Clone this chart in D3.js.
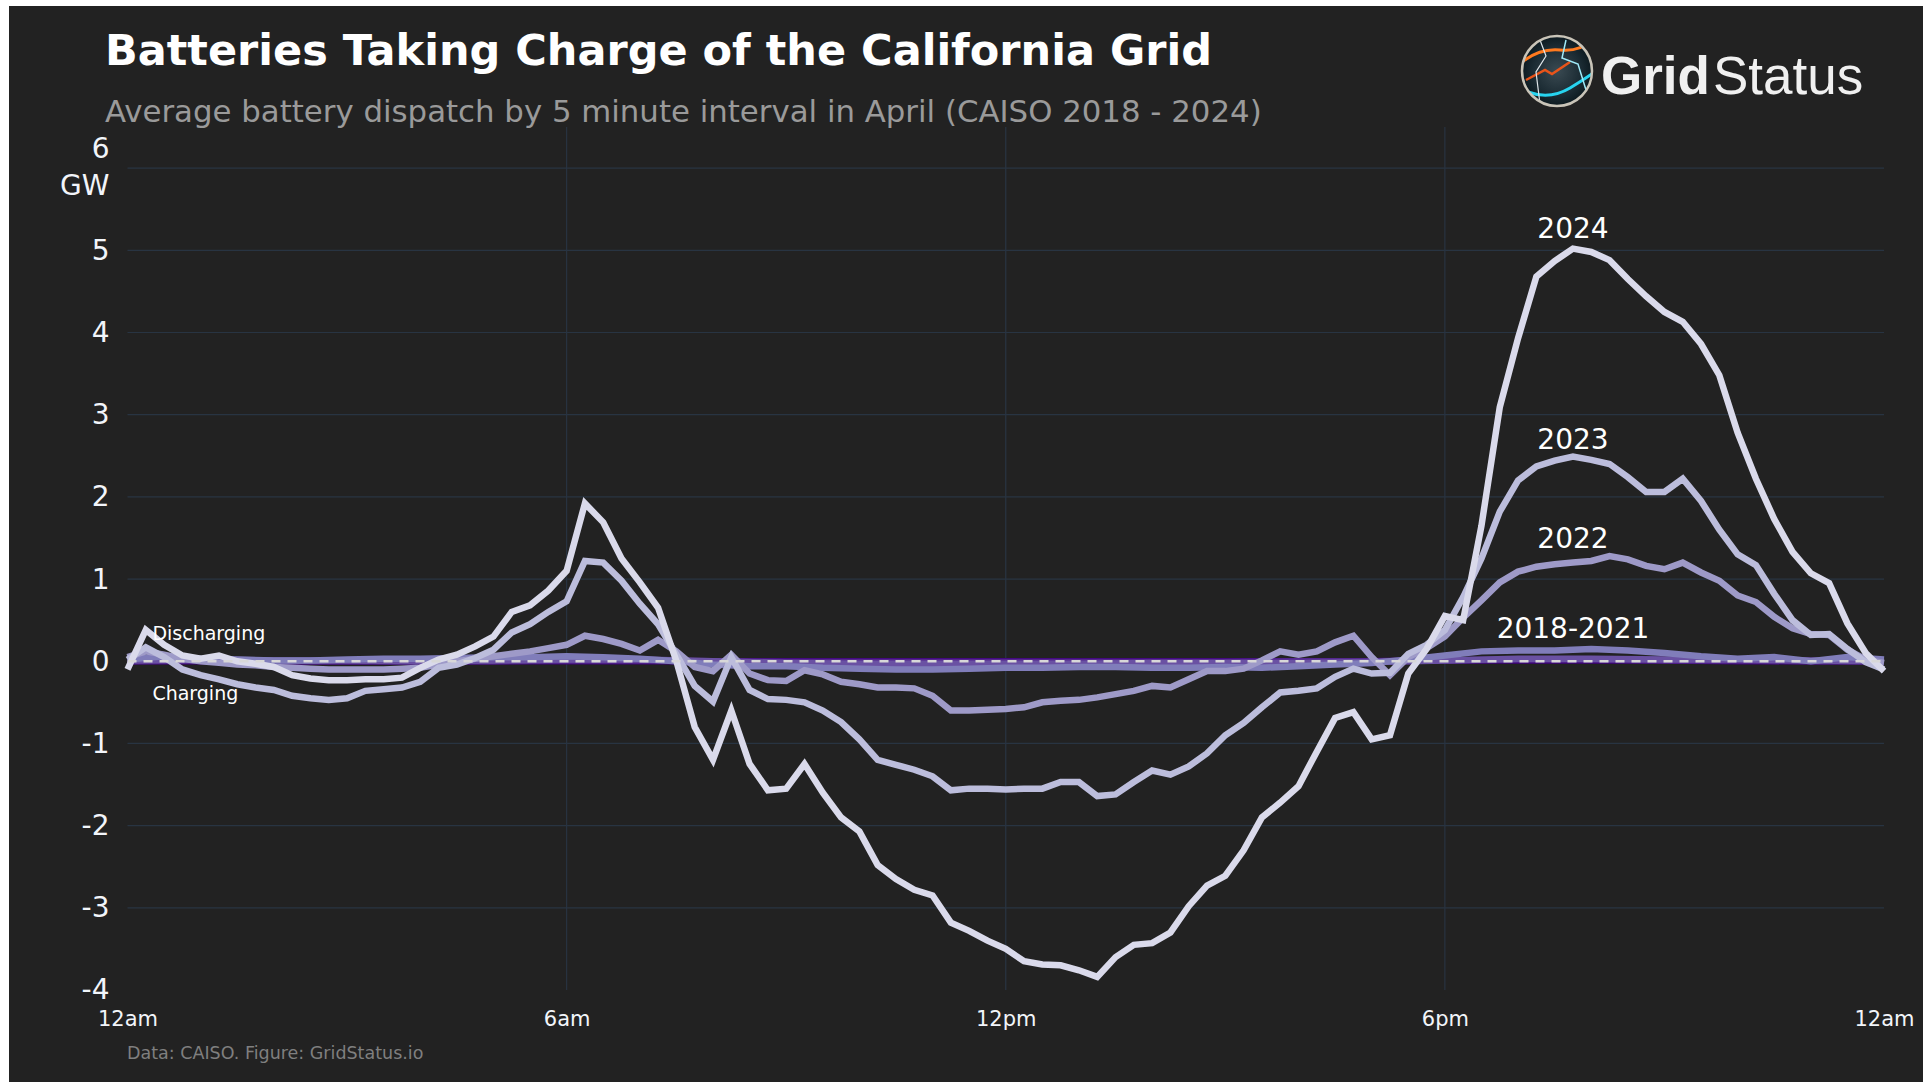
<!DOCTYPE html>
<html>
<head>
<meta charset="utf-8">
<script src="https://cdn.jsdelivr.net/npm/d3@7"></script>
<style>
  html, body { margin: 0; padding: 0; background: #ffffff; }
  svg { display: block; }
</style>
</head>
<body>
<script>
// Average battery dispatch (GW).
// 2022-2024 sampled every 15 min, 2021 every 30 min, 2018-2020 hourly.
const years = ['2018', '2019', '2020', '2021', '2022', '2023', '2024'];

const v2024 = [
  -0.10, 0.38, 0.20, 0.07,  0.03, 0.07, 0.00, -0.03,  -0.07, -0.17, -0.21, -0.23,
  -0.23, -0.22, -0.22, -0.20,  -0.08, 0.02, 0.08, 0.18,  0.30, 0.60, 0.68, 0.86,
  1.10, 1.92, 1.69, 1.25,  0.96, 0.65, 0.00, -0.80,  -1.20, -0.60, -1.25, -1.57,
  -1.55, -1.25, -1.60, -1.90,  -2.07, -2.48, -2.65, -2.78,  -2.85, -3.18, -3.28, -3.40,
  -3.50, -3.65, -3.69, -3.70,  -3.76, -3.84, -3.60, -3.45,  -3.43, -3.30, -2.98, -2.73,
  -2.61, -2.30, -1.90, -1.72,  -1.52, -1.10, -0.69, -0.62,  -0.95, -0.90, -0.15, 0.15,
  0.55, 0.50, 1.65, 3.09,  3.93, 4.68, 4.87, 5.02,  4.98, 4.88, 4.65, 4.44,
  4.25, 4.13, 3.86, 3.48,  2.78, 2.22, 1.73, 1.33,  1.07, 0.95, 0.46, 0.10,
  -0.12
];
const v2023 = [
  0.02, 0.17, 0.05, -0.10,  -0.17, -0.22, -0.28, -0.32,  -0.35, -0.42, -0.45, -0.47,
  -0.45, -0.36, -0.34, -0.32,  -0.25, -0.08, -0.04, 0.04,  0.14, 0.35, 0.45, 0.60,
  0.73, 1.22, 1.20, 0.98,  0.70, 0.45, 0.08, -0.30,  -0.49, 0.05, -0.35, -0.46,
  -0.47, -0.50, -0.60, -0.74,  -0.95, -1.20, -1.26, -1.32,  -1.40, -1.57, -1.55, -1.55,
  -1.56, -1.55, -1.55, -1.47,  -1.47, -1.64, -1.62, -1.47,  -1.33, -1.38, -1.28, -1.12,
  -0.90, -0.75, -0.56, -0.38,  -0.36, -0.33, -0.19, -0.09,  -0.15, -0.14, 0.09, 0.20,
  0.38, 0.78, 1.25, 1.82,  2.20, 2.37, 2.44, 2.49,  2.45, 2.40, 2.24, 2.06,
  2.06, 2.22, 1.95, 1.60,  1.30, 1.17, 0.82, 0.50,  0.32, 0.33, 0.15, -0.01,
  -0.10
];
const v2022 = [
  0.05, 0.12, 0.08, 0.03,  0.00, -0.02, -0.04, -0.05,  -0.07, -0.08, -0.09, -0.10,
  -0.10, -0.10, -0.10, -0.09,  -0.08, -0.04, 0.00, 0.03,  0.06, 0.09, 0.12, 0.16,
  0.20, 0.31, 0.27, 0.21,  0.13, 0.26, 0.12, -0.07,  -0.12, 0.08, -0.15, -0.23,
  -0.24, -0.11, -0.16, -0.25,  -0.28, -0.32, -0.32, -0.33,  -0.42, -0.60, -0.60, -0.59,
  -0.58, -0.56, -0.50, -0.48,  -0.47, -0.44, -0.40, -0.36,  -0.30, -0.32, -0.22, -0.12,
  -0.12, -0.09, 0.01, 0.12,  0.08, 0.12, 0.23, 0.31,  0.05, -0.17, 0.05, 0.16,
  0.30, 0.53, 0.74, 0.96,  1.09, 1.15, 1.18, 1.20,  1.22, 1.28, 1.24, 1.16,
  1.12, 1.20, 1.08, 0.98,  0.80, 0.72, 0.54, 0.40,  0.33, 0.32, 0.14, 0.02,
  -0.02
];
const v2021 = [
  0.02, 0.06, 0.03, 0.02, 0.01, 0.01, 0.02, 0.03, 0.03, 0.04, 0.05, 0.05,
  0.06, 0.05, 0.03, 0.00, -0.04, -0.06, -0.06, -0.08, -0.09, -0.10, -0.10, -0.09,
  -0.08, -0.08, -0.07, -0.07, -0.08, -0.08, -0.07, -0.08, -0.06, -0.04, -0.02, 0.02,
  0.07, 0.12, 0.13, 0.13, 0.15, 0.13, 0.10, 0.06, 0.03, 0.05, 0.00, 0.05,
  0.02
];
const v2020 = [0.01, 0.02, 0.01, 0.01, 0.00, 0.01, 0.02, 0.02, 0.00, -0.02, -0.03, -0.03,
  -0.03, -0.03, -0.02, -0.02, -0.02, -0.01, 0.01, 0.03, 0.03, 0.02, 0.02, 0.01, 0.00];
const v2019 = [0.00, 0.01, 0.00, 0.00, 0.00, 0.00, 0.01, 0.01, 0.00, -0.01, -0.01, -0.01,
  -0.01, -0.01, -0.01, -0.01, 0.00, 0.00, 0.01, 0.02, 0.02, 0.01, 0.01, 0.00, 0.00];
const v2018 = [0.00, 0.00, 0.00, 0.00, 0.00, 0.00, 0.00, 0.00, 0.00, 0.00, 0.00, 0.00,
  0.00, 0.00, 0.00, 0.00, 0.00, 0.00, 0.01, 0.01, 0.01, 0.01, 0.00, 0.00, 0.00];

const seriesValues = { '2018': v2018, '2019': v2019, '2020': v2020, '2021': v2021,
                       '2022': v2022, '2023': v2023, '2024': v2024 };
const sampleHours = { '2018': 1, '2019': 1, '2020': 1, '2021': 0.5,
                      '2022': 0.25, '2023': 0.25, '2024': 0.25 };

const xTickHours = [0, 6, 12, 18, 24];
const xTickLabels = ['12am', '6am', '12pm', '6pm', '12am'];
const yTicks = [-4, -3, -2, -1, 0, 1, 2, 3, 4, 5, 6];

// label text, hour, GW
const yearLabels = [
  ['2024', 19.75, 5.27],
  ['2023', 19.75, 2.71],
  ['2022', 19.75, 1.50],
  ['2018-2021', 19.75, 0.41]
];
const sideLabels = [
  ['Discharging', 0.34, 0.34],
  ['Charging', 0.34, -0.39]
];

// ---- styling ----
const width = 1923, height = 1082;
const font = 'DejaVu Sans, Verdana, sans-serif';
const colors = d3.scaleOrdinal()
  .domain(years)
  .range(['#3f007d', '#54278f', '#6a51a3', '#807dba', '#9e9ac8', '#bcbddc', '#dadaeb']);

const svg = d3.select('body').append('svg')
  .attr('width', width)
  .attr('height', height);

svg.append('rect').attr('x', 9).attr('y', 6)
  .attr('width', width - 9).attr('height', height - 6)
  .attr('fill', '#222222');

const x = d3.scaleLinear().domain([0, 24]).range([127.5, 1884]);
const y = d3.scaleLinear().domain([-4, 6.5]).range([990, 127]);

// gridlines
svg.append('g').selectAll('line')
  .data(yTicks.filter(d => d !== 0 && d !== -4))
  .enter().append('line')
  .attr('x1', x(0)).attr('x2', x(24))
  .attr('y1', d => y(d)).attr('y2', d => y(d))
  .attr('stroke', '#283442').attr('stroke-width', 1.2);

svg.append('g').selectAll('line')
  .data(xTickHours.filter(d => d > 0 && d < 24))
  .enter().append('line')
  .attr('x1', d => x(d)).attr('x2', d => x(d))
  .attr('y1', y(6.5)).attr('y2', y(-4))
  .attr('stroke', '#283442').attr('stroke-width', 1.2);

// axes
const xAxis = svg.append('g')
  .attr('transform', `translate(0, ${y(-4)})`)
  .call(d3.axisBottom(x).tickValues(xTickHours).tickSize(0).tickPadding(21)
    .tickFormat((d, i) => xTickLabels[i]));
xAxis.select('.domain').remove();
xAxis.selectAll('text')
  .attr('fill', '#f2f5fa')
  .style('font-family', font)
  .style('font-size', '21px');

const yAxis = svg.append('g')
  .attr('transform', `translate(${x(0)}, 0)`)
  .call(d3.axisLeft(y).tickValues(yTicks).tickSize(0).tickPadding(18)
    .tickFormat(d => String(d)));
yAxis.select('.domain').remove();
yAxis.selectAll('text')
  .attr('fill', '#f2f5fa')
  .style('font-family', font)
  .style('font-size', '28px');
yAxis.selectAll('.tick').filter(d => d === 6).select('text')
  .text(null)
  .attr('dy', null)
  .call(t => {
    t.append('tspan').attr('x', -18).attr('dy', '-0.38em').text('6');
    t.append('tspan').attr('x', -18).attr('dy', '1.33em').text('GW');
  });

// lines
const line = d3.line()
  .x(d => x(d[0]))
  .y(d => y(d[1]));

svg.append('g').selectAll('path')
  .data(years)
  .enter().append('path')
  .attr('d', yr => line(seriesValues[yr].map((v, i) => [i * sampleHours[yr], v])))
  .attr('fill', 'none')
  .attr('stroke', yr => colors(yr))
  .attr('stroke-width', 6.5);

// dashed zero line
svg.append('line')
  .attr('x1', x(0)).attr('x2', x(24))
  .attr('y1', y(0)).attr('y2', y(0))
  .attr('stroke', '#d8d8d8')
  .attr('stroke-width', 2.5)
  .attr('stroke-dasharray', '9,7');

// annotations
svg.append('g').selectAll('text')
  .data(yearLabels)
  .enter().append('text')
  .attr('x', d => x(d[1]))
  .attr('y', d => y(d[2]))
  .attr('dy', '0.36em')
  .attr('text-anchor', 'middle')
  .attr('fill', '#ffffff')
  .style('font-family', font)
  .style('font-size', '28px')
  .text(d => d[0]);

svg.append('g').selectAll('text')
  .data(sideLabels)
  .enter().append('text')
  .attr('x', d => x(d[1]))
  .attr('y', d => y(d[2]))
  .attr('dy', '0.36em')
  .attr('fill', '#ffffff')
  .style('font-family', font)
  .style('font-size', '19px')
  .text(d => d[0]);

// titles
svg.append('text')
  .attr('x', 105).attr('y', 65)
  .attr('fill', '#ffffff')
  .style('font-family', font)
  .style('font-weight', 'bold')
  .style('font-size', '43px')
  .text('Batteries Taking Charge of the California Grid');

svg.append('text')
  .attr('x', 105).attr('y', 122)
  .attr('fill', '#9a9a9a')
  .style('font-family', font)
  .style('font-size', '30.8px')
  .text('Average battery dispatch by 5 minute interval in April (CAISO 2018 - 2024)');

svg.append('text')
  .attr('x', 127).attr('y', 1059)
  .attr('fill', '#7f7f7f')
  .style('font-family', font)
  .style('font-size', '17.5px')
  .text('Data: CAISO. Figure: GridStatus.io');

// logo
const defs = svg.append('defs');
const grad = defs.append('radialGradient').attr('id', 'globe');
grad.append('stop').attr('offset', '0%').attr('stop-color', '#3a4a52');
grad.append('stop').attr('offset', '70%').attr('stop-color', '#1b2b33');
grad.append('stop').attr('offset', '100%').attr('stop-color', '#0d1a20');
defs.append('clipPath').attr('id', 'globeClip')
  .append('circle').attr('cx', 1557).attr('cy', 71).attr('r', 35);

const logo = svg.append('g');
logo.append('circle').attr('cx', 1557).attr('cy', 71).attr('r', 35)
  .attr('fill', 'url(#globe)');
const bolts = logo.append('g').attr('clip-path', 'url(#globeClip)').attr('fill', 'none');
bolts.append('path').attr('d', 'M1522,62 Q1540,48 1560,50 T1592,40')
  .attr('stroke', '#ff7a1f').attr('stroke-width', 3);
bolts.append('path').attr('d', 'M1526,80 L1545,70 L1552,74 L1570,62')
  .attr('stroke', '#e8541a').attr('stroke-width', 2.5);
bolts.append('path').attr('d', 'M1528,92 Q1550,100 1570,88 T1594,72')
  .attr('stroke', '#27d4f0').attr('stroke-width', 3);
bolts.append('path').attr('d', 'M1566,40 L1562,58 L1578,64 L1586,90 L1576,106')
  .attr('stroke', '#9fe9f7').attr('stroke-width', 1.5);
bolts.append('path').attr('d', 'M1540,40 L1546,56 L1536,72 L1540,104')
  .attr('stroke', '#dfe6ea').attr('stroke-width', 1.2);
logo.append('circle').attr('cx', 1557).attr('cy', 71).attr('r', 35)
  .attr('fill', 'none').attr('stroke', '#c9c4b8').attr('stroke-width', 2.5);

const brand = svg.append('text')
  .attr('x', 1601).attr('y', 94)
  .attr('fill', '#f0f0f0')
  .style('font-family', 'Liberation Sans, Arial, sans-serif')
  .style('font-size', '53px');
brand.append('tspan').style('font-weight', 'bold').text('Grid');
brand.append('tspan').attr('dx', 3).text('Status');
</script>
</body>
</html>
